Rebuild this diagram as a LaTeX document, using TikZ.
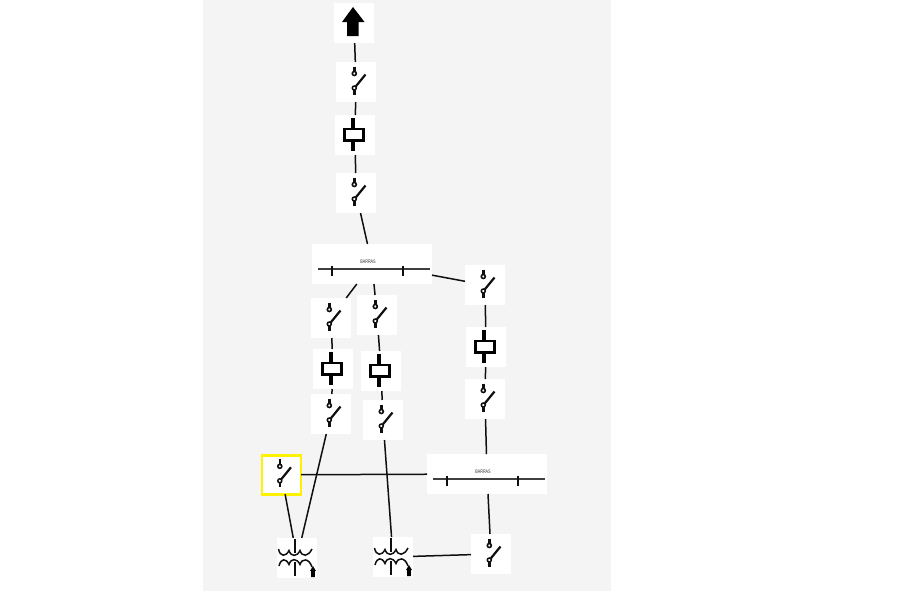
\documentclass[tikz,border=0pt]{standalone}
\usepackage{fontspec}
\setmainfont{Liberation Sans}
\definecolor{bgpanel}{RGB}{244,244,244}
\definecolor{symb}{RGB}{15,15,15}
\tikzset{
  cell/.style={fill=white,draw=none,minimum width=40pt,minimum height=40pt,inner sep=0pt,outer sep=0pt},
  barcell/.style={cell,minimum width=120pt},
  selcell/.style={cell,draw=yellow,line width=2.8pt,minimum width=39pt,minimum height=39pt},
  conn/.style={draw=symb,line width=1.5pt},
  sw/.pic={
    \draw[symb,line width=2.6pt] (-1.7,-15.5) -- (-1.7,-10);
    \draw[symb,line width=1.6pt,fill=white] (-1.7,-8.5) circle (2);
    \draw[symb,line width=2.6pt] (-1.7,7.5) -- (-1.7,12.5);
    \draw[symb,line width=2.2pt] (-0.7,5) -- (9.5,-7.5);
    \draw[symb,line width=1.5pt,fill=white] (-1.7,6) circle (2);
  },
  brk/.pic={
    \draw[black,line width=3.2pt] (-2,-17) -- (-2,16);
    \draw[black,line width=2.8pt,fill=white] (-10.5,-6) rectangle (8.5,5.5);
  },
  bar/.pic={
    \draw[symb!80!white,line width=1.5pt] (-54,5) -- (58,5);
    \draw[symb,line width=1.1pt] (-40,1.5) -- (-40,12);
    \draw[symb,line width=1.1pt] (31,1.5) -- (31,12);
    \node[text=black!80,font=\fontsize{5.2}{5.2}\selectfont,xscale=.72,inner sep=0pt] at (-4,-2.5) {BARRAS};
  },
  trafo/.pic={
    \draw[symb,line width=1.5pt] (-2,-19) -- (-2,-5);
    \draw[symb,line width=1.5pt] (-2,4) -- (-2,18);
    \draw[symb,line width=1.5pt] (-18.5,-9) .. controls (-17,-1) and (-11,-1) .. (-8,-7.5)
       .. controls (-6,-1) and (0,-1) .. (3,-7.5)
       .. controls (5,-1) and (11,-1) .. (15,-9);
    \draw[symb,line width=1.5pt] (-18,8) .. controls (-16,0) and (-11,0) .. (-8,6.5)
       .. controls (-6,0) and (0,0) .. (3,6.5)
       .. controls (5,0) and (12,0) .. (15,9);
    \fill[black] (16,8) -- (19,13) -- (17.8,13) -- (17.8,19) -- (14.2,19) -- (14.2,13) -- (13,13) -- cycle;
  },
  uparrow/.pic={
    \fill[black] (-1,-16) -- (10.5,-1) -- (4.7,-1) -- (4.7,13) -- (-7,13) -- (-7,-1) -- (-12,-1) -- cycle;
  }
}
\begin{document}
\begin{tikzpicture}[x=1pt,y=-1pt]
\useasboundingbox (0,0) rectangle (903,598);
\fill[bgpanel] (203,0) rectangle (611,591);
% nodes
\node[cell] (top) at (354,23) {};
\node[cell] (s1) at (356,82) {};
\node[cell] (b1) at (355,135) {};
\node[cell] (s2) at (356,193) {};
\node[barcell] (busA) at (372,264) {};
\node[cell] (s3) at (331,318) {};
\node[cell] (b2) at (333,369) {};
\node[cell] (s4) at (331,414) {};
\node[cell] (s5) at (377,315) {};
\node[cell] (b3) at (381,371) {};
\node[cell] (s6) at (383,420) {};
\node[cell] (s7) at (485,285) {};
\node[cell] (b4) at (486,347) {};
\node[cell] (s8) at (485,399) {};
\node[barcell] (busB) at (487,474) {};
\node[selcell] (sel) at (281.5,474.8) {};
\node[cell] (t1) at (297,558) {};
\node[cell] (t2) at (393,557) {};
\node[cell] (s9) at (491,554) {};
% connectors
\draw[conn] (top) -- (s1);
\draw[conn] (s1) -- (b1);
\draw[conn] (b1) -- (s2);
\draw[conn] (s2) -- (busA);
\draw[conn] (busA) -- (s3);
\draw[conn] (s3) -- (b2);
\draw[conn] (b2) -- (s4);
\draw[conn] (s4) -- (t1);
\draw[conn] (busA) -- (s5);
\draw[conn] (s5) -- (b3);
\draw[conn] (b3) -- (s6);
\draw[conn] (s6) -- (t2);
\draw[conn] (busA) -- (s7);
\draw[conn] (s7) -- (b4);
\draw[conn] (b4) -- (s8);
\draw[conn] (s8) -- (busB);
\draw[conn] (busB) -- (s9);
\draw[conn] (s9) -- (t2);
\draw[conn] (sel) -- (t1);
\draw[conn] (sel) -- (busB);
% symbols
\pic at (top) {uparrow};
\foreach \n in {s1,s2,s3,s4,s5,s6,s7,s8,s9,sel}{\pic at (\n) {sw};}
\foreach \n in {b1,b2,b3,b4}{\pic at (\n) {brk};}
\foreach \n in {busA,busB}{\pic at (\n) {bar};}
\foreach \n in {t1,t2}{\pic at (\n) {trafo};}
\end{tikzpicture}
\end{document}
